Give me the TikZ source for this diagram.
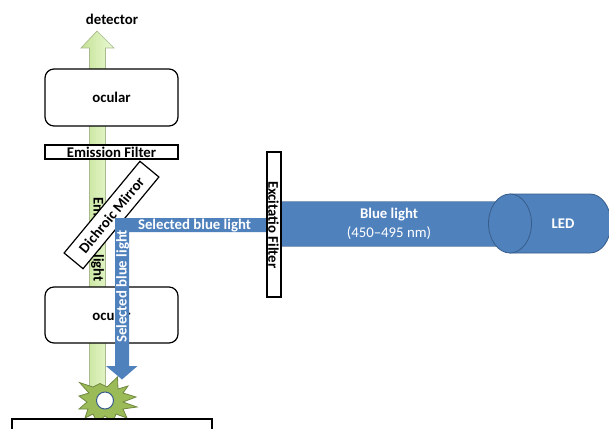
\documentclass[tikz,border=0pt]{standalone}
\usepackage{fontspec}
\setmainfont{Carlito}
\usetikzlibrary{shapes.geometric}
\definecolor{bluefill}{HTML}{4F81BD}
\definecolor{blueline}{HTML}{385D8A}
\definecolor{greenline}{HTML}{A9B98C}
\definecolor{starfill}{HTML}{9BBB59}
\definecolor{starline}{HTML}{71893F}
\definecolor{greenA}{HTML}{C5E295}
\definecolor{greenB}{HTML}{EAFAD6}
\tikzset{
  x=1pt,y=-1pt,
  lab/.style={font=\bfseries\fontsize{14.8}{16}\selectfont,inner sep=0pt,text=black},
  wlab/.style={lab,text=white},
  opt/.style={draw=black,line width=1.2pt,fill=white,rounded corners=9pt},
  filt/.style={draw=black,line width=1.2pt,fill=white},
  greenbeam/.style={draw=greenline,line width=0.7pt,left color=greenA,right color=greenB},
}
\begin{document}
\begin{tikzpicture}
\useasboundingbox (0,0) rectangle (609,428);
% green beam
\path[greenbeam] (97,31) -- (114,48) -- (105.5,48) -- (105.5,395) -- (89.5,395) -- (89.5,48) -- (81,48) -- cycle;
\node[lab,rotate=-90] (emlight) at (97.5,239.5) {Emission light};
% mirror
\node[filt,minimum width=119pt,minimum height=24.6pt,inner sep=0pt,rotate=50.4] (mirror) at (111.5,215) {};
\node[lab,rotate=50.4] (mirrorlab) at (111.5,215) {Dichroic Mirror};
% oculars
\node[opt,minimum width=133pt,minimum height=57pt,inner sep=0pt] (ocu1) at (111.5,97.5) {};
\node[lab] (ocu1t) at (111.5,97.5) {ocular};
\node[opt,minimum width=133pt,minimum height=56pt,inner sep=0pt] (ocu2) at (111.5,315) {};
\node[lab] (ocu2t) at (111.5,315) {ocular};
\node[filt,minimum width=133pt,minimum height=14pt,inner sep=0pt] (em) at (111.5,152) {};
\node[lab] (emt) at (111.5,152) {Emission Filter};
% blue L
\fill[bluefill] (115,218) -- (270,218) -- (270,232) -- (129,232) -- (129,366) -- (137.5,366) -- (122,379.5) -- (106,366) -- (115,366) -- cycle;
\node[wlab] (sel1) at (194.5,226) {Selected blue light};
\node[wlab,rotate=90] (sel2) at (122.6,286.5) {Selected blue light};
% star
\path[draw=starline,fill=starfill,line width=0.8pt]
 (79.5,382.5) -- (93,387) -- (100,383.5) -- (107,387) -- (117.5,377) -- (118,389) -- (128,386) -- (123,393)
 -- (136,397) -- (123,402) -- (137,407) -- (123,409) -- (127,418) -- (116,414) -- (113,422) -- (105,416)
 -- (97,422) -- (93,414) -- (85,418) -- (88,409) -- (79,409) -- (87,402) -- (79,396) -- (89,393) -- cycle;
\node[circle,draw=blueline,fill=white,line width=1pt,minimum size=17pt,inner sep=0pt] (dot) at (105,400.5) {};
\node[draw=black,line width=1.2pt,fill=white,minimum width=200pt,minimum height=30pt,inner sep=0pt] (sample) at (112,434) {};
% LED
\path[fill=bluefill,draw=blueline,line width=0.8pt] (510,194) -- (590,194) .. controls (601.6,194) and (611,207.2) .. (611,223.5) .. controls (611,239.8) and (601.6,253) .. (590,253) -- (510,253) -- cycle;
\fill[bluefill] (281,201) rectangle (500,246);
\draw[blueline!60,line width=0.5pt] (281,201) -- (497,201) (281,246) -- (497,246);
\node[ellipse,draw=blueline,fill=bluefill,line width=0.8pt,minimum width=43pt,minimum height=59pt,inner sep=0pt] (ledcap) at (510,223.5) {};
\node[wlab] (led) at (563,224) {LED};
\node[wlab] (bl) at (389,215) {Blue light};
\node[inner sep=0pt,text=white,font=\fontsize{14.8}{16}\selectfont] (nm) at (389,233) {(450–495 nm)};
% excitation filter
\node[filt,minimum width=14pt,minimum height=145pt,inner sep=0pt] (ex) at (274,224.5) {};
\node[lab,rotate=-90] (ext) at (273.5,224.7) {Excitatio Filter};
\node[lab] (det) at (112,19.5) {detector};
\end{tikzpicture}
\end{document}
